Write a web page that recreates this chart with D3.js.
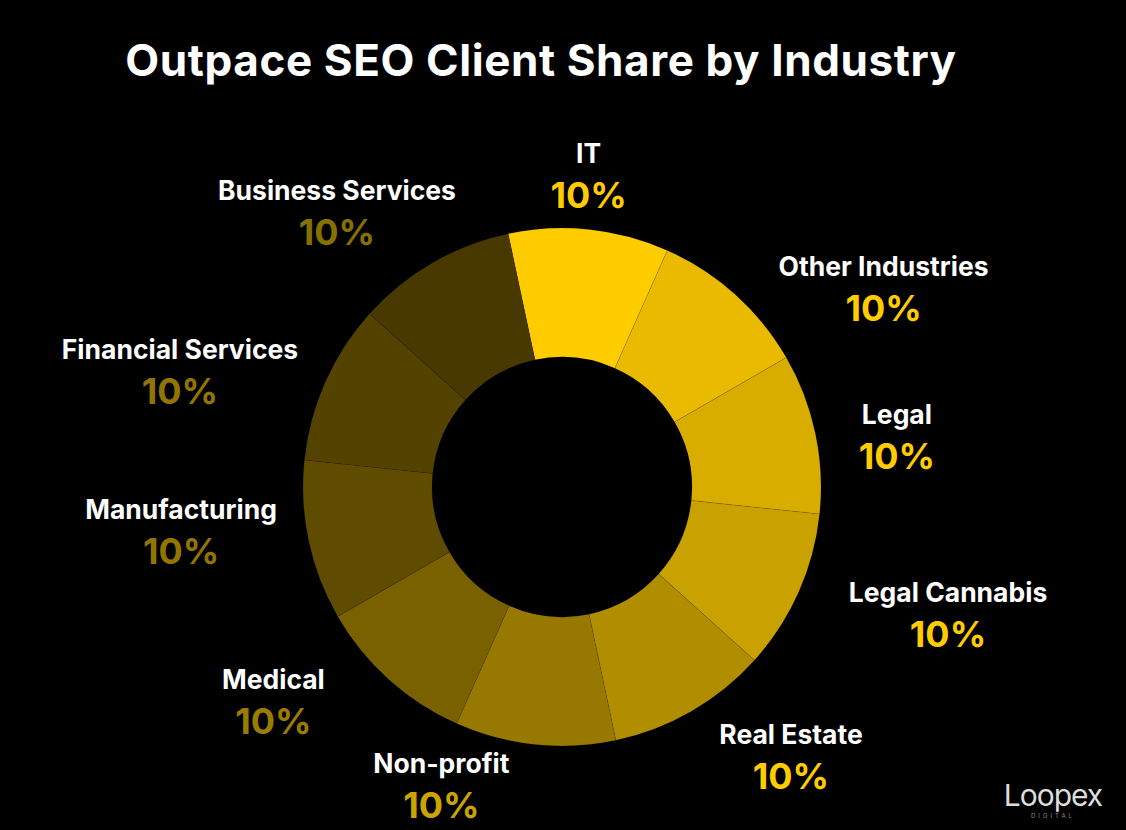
<!DOCTYPE html>
<html><head><meta charset="utf-8">
<script src="https://cdn.jsdelivr.net/npm/d3@7"></script>
<style>body{margin:0;background:#000}svg{display:block}</style>
</head><body>
<svg id="c" width="1126" height="830"></svg>
<script>
const categories = ["IT","Other Industries","Legal","Legal Cannabis","Real Estate","Non-profit","Medical","Manufacturing","Financial Services","Business Services"];
const values = [10,10,10,10,10,10,10,10,10,10];
const sliceColors = ["#FFCC00","#E9BA00","#D9AD00","#C9A100","#B18D00","#977800","#7A6100","#5F4C00","#534200","#473900"];
const pctColors = ["#FFCC00","#FFCC00","#FFCC00","#FFCC00","#FFCC00","#CCA400","#9A7C00","#917500","#917500","#867000"];
// label placement (layout, not data): offsets from elliptical anchor
const labelNudge = [[-12,-8],[74,29],[-27,13],[48,4],[44,6],[-82,-4],[-41,-12],[-19,-18],[-44,9],[-40,-10]];

const svg = d3.select("#c");
const font = "Inter, Lato, 'Open Sans', sans-serif";
svg.append("rect").attr("width",1126).attr("height",830).attr("fill","#000");
svg.append("text").attr("x",541).attr("y",76).attr("text-anchor","middle")
  .attr("fill","#fff").attr("font-family",font).attr("font-weight",700).attr("font-size",44).attr("letter-spacing",0.6)
  .text("Outpace SEO Client Share by Industry");

const cx=562, cy=487, R=259, r=130;
const offset = -12*Math.PI/180;
const pie = d3.pie().sort(null).value(d=>d).startAngle(offset).endAngle(offset+2*Math.PI);
const arcs = pie(values);
const arc = d3.arc().innerRadius(r).outerRadius(R);
const g = svg.append("g").attr("transform",`translate(${cx},${cy})`);
g.selectAll("path").data(arcs).join("path").attr("d",arc)
  .attr("fill",(d,i)=>sliceColors[i]).attr("stroke","#000").attr("stroke-opacity",0.15).attr("stroke-width",0.6);

const rx=370, ry=305;
const fmt = d3.format(".0%");
const total = d3.sum(values);
arcs.forEach((d,i)=>{
  const a=(d.startAngle+d.endAngle)/2;
  const x=cx+rx*Math.sin(a)+labelNudge[i][0];
  const y=cy-ry*Math.cos(a)+labelNudge[i][1];
  svg.append("text").attr("x",x).attr("y",y-13).attr("text-anchor","middle")
    .attr("fill","#fff").attr("font-family",font).attr("font-weight",700).attr("font-size",26.5)
    .text(categories[i]);
  svg.append("text").attr("x",x).attr("y",y+32).attr("text-anchor","middle")
    .attr("fill",pctColors[i]).attr("font-family",font).attr("font-weight",700).attr("font-size",36)
    .text(fmt(d.data/total));
});
svg.append("text").attr("x",1053).attr("y",806).attr("text-anchor","middle")
  .attr("fill","#ddd").attr("font-family",font).attr("font-size",30).attr("letter-spacing",-1).text("Loopex");
svg.append("text").attr("x",1053).attr("y",818).attr("text-anchor","middle")
  .attr("fill","#888").attr("font-family",font).attr("font-size",6).attr("letter-spacing",3).text("DIGITAL");
</script>
</body></html>
